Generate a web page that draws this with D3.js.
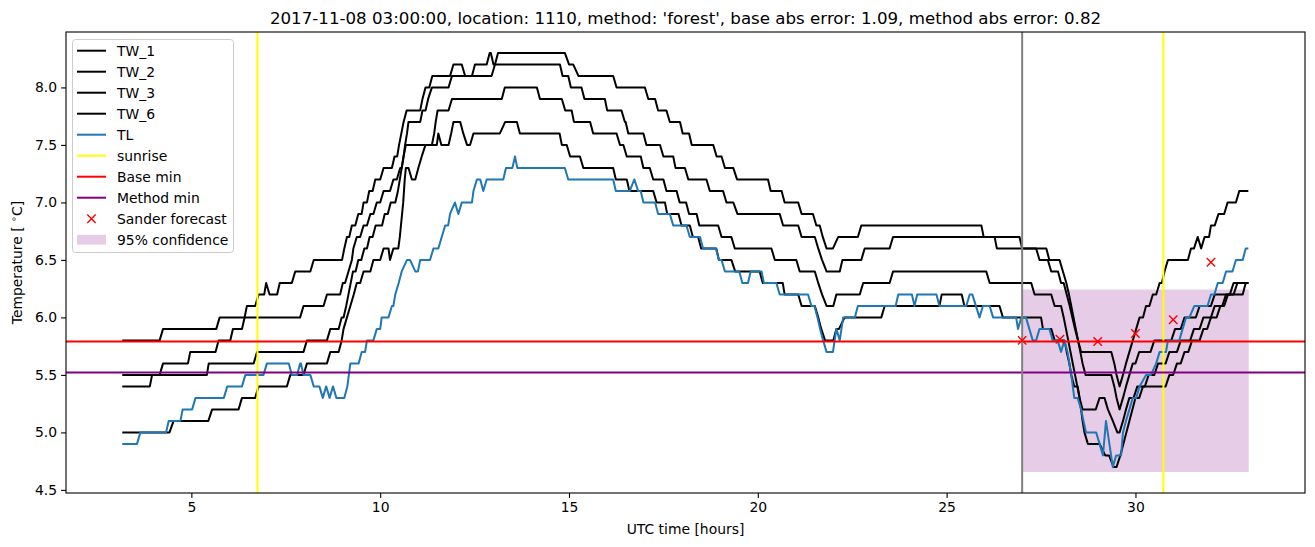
<!DOCTYPE html>
<html><head><meta charset="utf-8">
<script src="https://cdn.jsdelivr.net/npm/d3@7"></script>
<style>body{margin:0;background:#fff} text{font-family:"DejaVu Sans",sans-serif;fill:#000}</style>
</head><body><svg id="c" width="1315" height="547"></svg>
<script>
const titleText = "2017-11-08 03:00:00, location: 1110, method: 'forest', base abs error: 1.09, method abs error: 0.82";
const xTicks = [5, 10, 15, 20, 25, 30];
const yTicks = [4.5, 5.0, 5.5, 6.0, 6.5, 7.0, 7.5, 8.0];
// series as levels: [start hour, end hour, value]
const tw1 = [[3.17,4.16,5.5],[4.25,4.91,5.6],[4.97,5.64,5.7],[5.72,6.03,5.8],[6.10,6.34,5.9],[6.41,6.41,6.0],[6.47,6.69,6.1],[6.78,6.93,6.2],[6.98,6.98,6.3],[7.07,7.27,6.2],[7.34,7.66,6.3],[7.75,8.15,6.4],[8.24,8.99,6.5],[9.05,9.05,6.6],[9.12,9.18,6.7],[9.25,9.34,6.8],[9.42,9.51,6.9],[9.56,9.65,7.0],[9.71,9.80,7.1],[9.87,10.0,7.2],[10.09,10.31,7.3],[10.38,10.45,7.4],[10.5,10.5,7.5],[10.56,10.56,7.6],[10.62,10.62,7.7],[10.7,11.06,7.8],[11.12,11.12,7.9],[11.2,11.3,8.0],[11.38,11.85,8.1],[11.94,12.16,8.2],[12.25,12.43,8.1],[12.51,12.82,8.2],[12.9,12.93,8.3],[13.0,13.04,8.2],[13.12,14.89,8.3],[15.0,15.11,8.2],[15.25,16.17,8.1],[16.26,17.01,8.0],[17.1,17.28,7.9],[17.36,17.58,7.8],[17.67,17.94,7.7],[18.01,18.18,7.6],[18.25,18.82,7.5],[18.91,19.04,7.4],[19.13,19.35,7.3],[19.45,20.27,7.2],[20.34,20.63,7.1],[20.71,21.07,7.0],[21.16,21.46,6.9],[21.55,21.64,6.8],[21.72,21.72,6.7],[21.82,21.99,6.6],[22.13,22.65,6.7],[22.74,25.92,6.8],[25.98,26.93,6.7],[27.0,27.37,6.6],[27.46,27.68,6.5],[27.77,27.95,6.4],[28.03,28.1,6.3],[28.18,28.18,6.2],[28.26,28.26,6.1],[28.33,28.33,6.0],[28.4,28.4,5.9],[28.48,28.48,5.8],[28.56,29.36,5.7],[29.44,29.44,5.6],[29.5,29.5,5.5],[29.58,29.58,5.4],[29.67,29.67,5.5],[29.75,29.75,5.6],[29.84,29.84,5.7],[29.93,29.93,5.8],[30.02,30.02,5.9],[30.11,30.2,6.0],[30.28,30.37,6.1],[30.46,30.55,6.2],[30.64,30.7,6.3],[30.77,30.77,6.4],[30.86,31.39,6.5],[31.47,31.55,6.6],[31.65,31.65,6.7],[31.74,31.74,6.6],[31.83,31.95,6.7],[32.0,32.1,6.8],[32.2,32.35,6.9],[32.44,32.66,7.0],[32.75,32.99,7.1]];
const tw2 = [[3.17,4.16,5.8],[4.25,5.66,5.9],[5.75,7.88,6.0],[7.97,8.50,6.1],[8.59,8.94,6.2],[9.01,9.07,6.3],[9.16,9.16,6.4],[9.25,9.25,6.5],[9.29,9.29,6.6],[9.38,9.47,6.7],[9.56,9.65,6.8],[9.74,9.82,6.9],[9.91,10.0,7.0],[10.09,10.26,7.1],[10.35,10.44,7.2],[10.53,10.57,7.3],[10.62,10.62,7.4],[10.66,10.66,7.5],[10.71,10.71,7.6],[10.75,11.06,7.7],[11.12,11.2,7.8],[11.27,11.27,7.9],[11.37,11.81,8.0],[11.9,12.95,8.1],[13.04,14.76,8.2],[14.83,14.98,8.1],[15.05,15.33,8.0],[15.41,15.95,7.9],[16.01,16.39,7.8],[16.48,16.5,7.7],[16.57,16.97,7.6],[17.05,17.41,7.5],[17.5,17.76,7.4],[17.82,18.07,7.3],[18.16,18.64,7.2],[18.73,19.08,7.1],[19.17,19.35,7.0],[19.46,20.58,6.9],[20.67,21.07,6.8],[21.16,21.51,6.7],[21.6,21.6,6.6],[21.7,21.7,6.5],[21.82,22.17,6.4],[22.24,22.74,6.5],[22.83,23.49,6.6],[23.58,26.27,6.7],[26.33,27.64,6.6],[27.72,27.99,6.5],[28.08,28.08,6.4],[28.17,28.17,6.3],[28.24,28.24,6.2],[28.3,28.3,6.1],[28.36,28.36,6.0],[28.42,28.42,5.9],[28.48,28.48,5.8],[28.54,28.54,5.7],[28.6,28.6,5.6],[28.68,29.36,5.5],[29.44,29.44,5.4],[29.5,29.5,5.3],[29.58,29.58,5.2],[29.67,29.67,5.3],[29.75,29.75,5.4],[29.84,29.84,5.5],[29.93,30.0,5.6],[30.1,30.4,5.7],[30.5,30.95,5.8],[31.05,31.2,5.9],[31.3,31.6,6.0],[31.7,32.0,6.1],[32.1,32.5,6.2],[32.6,32.99,6.3]];
const tw3 = [[3.17,3.90,5.4],[3.96,5.41,5.5],[5.46,6.65,5.6],[6.74,7.97,5.7],[8.06,8.59,5.8],[8.68,8.9,5.9],[8.98,9.03,6.0],[9.1,9.1,6.1],[9.16,9.16,6.2],[9.22,9.22,6.3],[9.28,9.35,6.4],[9.42,9.5,6.5],[9.58,9.65,6.6],[9.72,9.8,6.7],[9.88,10.05,6.8],[10.12,10.2,6.9],[10.28,10.4,7.0],[10.47,10.47,7.1],[10.52,10.52,7.2],[10.57,10.57,7.3],[10.62,10.62,7.4],[10.68,11.37,7.5],[11.43,11.43,7.6],[11.47,11.47,7.7],[11.52,11.81,7.8],[11.9,13.22,7.9],[13.3,14.15,8.0],[14.23,14.81,7.9],[14.9,15.07,7.8],[15.13,15.56,7.7],[15.64,16.26,7.6],[16.35,16.44,7.5],[16.53,16.9,7.4],[16.97,17.14,7.3],[17.23,17.5,7.2],[17.58,17.85,7.1],[17.93,18.1,7.0],[18.18,18.38,6.9],[18.45,18.95,6.8],[19.04,19.3,6.7],[19.39,20.36,6.6],[20.45,21.02,6.5],[21.11,21.51,6.4],[21.6,21.6,6.3],[21.7,21.7,6.2],[21.82,22.0,6.1],[22.08,22.7,6.2],[22.79,23.49,6.3],[23.58,26.05,6.4],[26.14,27.24,6.3],[27.33,27.77,6.2],[27.86,28.03,6.1],[28.1,28.1,6.0],[28.16,28.16,5.9],[28.22,28.22,5.8],[28.28,28.28,5.7],[28.34,28.34,5.6],[28.4,28.4,5.5],[28.46,28.46,5.4],[28.52,28.52,5.3],[28.6,28.95,5.2],[29.05,29.18,5.3],[29.27,29.27,5.2],[29.4,29.4,5.1],[29.52,29.58,5.0],[29.67,29.67,5.1],[29.75,29.75,5.2],[29.84,29.95,5.3],[30.05,30.25,5.4],[30.35,30.5,5.5],[30.6,30.8,5.6],[30.9,31.1,5.7],[31.2,31.45,5.8],[31.55,31.7,5.9],[31.8,32.0,6.0],[32.1,32.3,6.1],[32.4,32.84,6.2],[32.92,32.99,6.3]];
const tw6 = [[3.17,4.42,5.0],[4.53,5.45,5.1],[5.55,6.25,5.2],[6.34,6.69,5.3],[6.78,7.53,5.4],[7.62,7.97,5.5],[8.06,8.59,5.6],[8.68,8.9,5.7],[8.98,8.98,5.8],[9.03,9.03,5.9],[9.12,9.12,6.0],[9.21,9.21,6.1],[9.3,9.3,6.2],[9.38,9.47,6.3],[9.56,9.74,6.4],[9.82,10.0,6.5],[10.09,10.22,6.6],[10.26,10.26,6.5],[10.35,10.48,6.6],[10.52,10.52,6.7],[10.55,10.55,6.8],[10.58,10.58,6.9],[10.61,10.61,7.0],[10.63,10.63,7.1],[10.65,10.65,7.2],[10.68,10.75,7.3],[10.84,10.93,7.2],[11.01,11.01,7.3],[11.1,11.1,7.4],[11.2,11.5,7.5],[11.54,11.54,7.6],[11.62,11.81,7.5],[11.88,11.88,7.6],[11.94,12.12,7.7],[12.2,12.2,7.6],[12.3,12.38,7.5],[12.47,13.17,7.6],[13.31,13.62,7.7],[13.7,14.75,7.6],[14.81,14.94,7.5],[15.03,15.29,7.4],[15.38,16.17,7.3],[16.24,16.53,7.2],[16.6,17.23,7.1],[17.32,17.54,7.0],[17.6,17.9,6.9],[17.98,18.2,6.8],[18.28,18.42,6.7],[18.5,18.9,6.6],[18.97,19.3,6.5],[19.4,20.05,6.4],[20.13,20.66,6.3],[20.71,21.07,6.2],[21.16,21.51,6.1],[21.6,21.6,6.0],[21.68,21.68,5.9],[21.78,22.0,5.8],[22.08,22.15,5.9],[22.3,23.27,6.0],[23.36,24.81,6.1],[24.87,25.4,6.2],[25.47,26.4,6.1],[26.49,27.5,6.0],[27.55,27.77,5.9],[27.86,28.12,5.8],[28.18,28.18,5.7],[28.25,28.25,5.6],[28.3,28.3,5.5],[28.38,28.47,5.4],[28.52,28.52,5.3],[28.56,28.56,5.2],[28.6,28.6,5.1],[28.65,28.65,5.0],[28.74,29.05,4.9],[29.2,29.3,4.8],[29.42,29.5,4.7],[29.6,29.6,4.8],[29.68,29.68,4.9],[29.76,29.76,5.0],[29.84,29.84,5.1],[29.92,29.92,5.2],[30.0,30.1,5.3],[30.2,30.8,5.4],[30.9,31.0,5.5],[31.1,31.2,5.6],[31.3,31.4,5.7],[31.5,31.7,5.8],[31.8,31.9,5.9],[32.0,32.15,6.0],[32.25,32.35,6.1],[32.45,32.6,6.2],[32.7,32.99,6.3]];
const tl = [[3.17,3.56,4.9],[3.65,4.33,5.0],[4.40,4.71,5.1],[4.77,5.02,5.2],[5.11,5.86,5.3],[5.95,6.34,5.4],[6.43,6.91,5.5],[7.0,7.58,5.6],[7.66,7.8,5.5],[7.88,7.9,5.6],[7.97,8.15,5.5],[8.24,8.39,5.4],[8.48,8.48,5.3],[8.57,8.57,5.4],[8.66,8.66,5.3],[8.75,8.75,5.4],[8.84,9.05,5.3],[9.13,9.13,5.4],[9.17,9.17,5.5],[9.21,9.43,5.6],[9.51,9.6,5.7],[9.65,9.82,5.8],[9.91,10.0,5.9],[10.04,10.22,6.0],[10.31,10.35,6.1],[10.4,10.4,6.2],[10.49,10.49,6.3],[10.57,10.57,6.4],[10.71,10.79,6.5],[10.93,11.0,6.4],[11.06,11.32,6.5],[11.41,11.54,6.6],[11.63,11.63,6.7],[11.72,11.8,6.8],[11.85,11.85,6.9],[11.98,11.98,7.0],[12.07,12.07,6.9],[12.16,12.43,7.0],[12.47,12.47,7.1],[12.56,12.65,7.2],[12.73,12.73,7.1],[12.82,13.26,7.2],[13.33,13.5,7.3],[13.57,13.57,7.4],[13.63,14.89,7.3],[14.98,16.17,7.2],[16.24,16.61,7.1],[16.73,16.73,7.2],[16.83,16.9,7.1],[16.97,17.28,7.0],[17.36,17.67,6.9],[17.76,18.11,6.8],[18.2,18.47,6.7],[18.55,18.89,6.6],[18.97,19.04,6.5],[19.13,19.51,6.4],[19.59,19.74,6.3],[19.81,20.10,6.4],[20.16,20.49,6.3],[20.58,21.33,6.2],[21.42,21.5,6.1],[21.58,21.58,6.0],[21.65,21.65,5.9],[21.73,21.73,5.8],[21.82,21.99,5.7],[22.08,22.08,5.9],[22.17,22.17,5.8],[22.26,22.57,6.0],[22.65,23.65,6.1],[23.72,24.08,6.2],[24.15,24.15,6.1],[24.22,24.73,6.2],[24.81,25.52,6.1],[25.61,25.68,6.2],[25.87,25.87,6.0],[25.96,26.14,6.1],[26.23,26.84,6.0],[26.89,26.89,5.9],[26.98,27.1,6.0],[27.28,27.37,5.8],[27.46,27.72,5.9],[27.81,27.94,5.8],[28.03,28.03,5.7],[28.12,28.12,5.8],[28.2,28.2,5.7],[28.3,28.3,5.5],[28.38,28.47,5.3],[28.56,28.56,5.2],[28.69,28.96,5.0],[29.14,29.14,4.8],[29.22,29.22,5.1],[29.4,29.4,4.7],[29.49,29.62,4.8],[29.67,29.67,5.0],[29.75,29.75,5.1],[29.84,29.84,5.2],[29.93,30.02,5.3],[30.11,30.11,5.4],[30.28,30.41,5.5],[30.55,30.55,5.6],[30.64,30.81,5.7],[30.86,31.16,5.8],[31.25,31.25,5.9],[31.34,31.43,6.0],[31.56,31.91,6.1],[32.0,32.09,6.2],[32.18,32.31,6.3],[32.4,32.57,6.4],[32.66,32.84,6.5],[32.92,32.99,6.6]];
const sunrise = [6.75, 30.74];
const forecastStart = [27.0];
const baseMin = [5.79];
const methodMin = [5.52];
const forecastHours = [27, 28, 29, 30, 31, 32];
const forecastValues = [5.80, 5.81, 5.79, 5.86, 5.98, 6.48];
const confHours = [27.0, 33.0];
const confLow = [4.655, 4.655];
const confHigh = [6.243, 6.243];
const legendLabels = ["TW_1","TW_2","TW_3","TW_6","TL","sunrise","Base min","Method min","Sander forecast","95% confidence"];

const svg = d3.select("#c");
const L = 66, R = 1305, T = 32, B = 493;
const x = d3.scaleLinear().domain([1.68, 34.49]).range([L, R]);
const y = d3.scaleLinear().domain([4.473, 8.482]).range([B, T]);

svg.append("defs").append("clipPath").attr("id","clip").append("rect")
  .attr("x",L).attr("y",T).attr("width",R-L).attr("height",B-T);
const g = svg.append("g").attr("clip-path","url(#clip)");

// confidence band (below lines)
const band = confHours.map((h,i)=>({h, lo:confLow[i], hi:confHigh[i]}));
g.append("path").datum(band)
  .attr("d", d3.area().x(d=>x(d.h)).y0(d=>y(d.lo)).y1(d=>y(d.hi)))
  .attr("fill","purple").attr("fill-opacity",0.2);

function pts(levels){
  const p = [];
  levels.forEach(([a,b,v])=>{ p.push([a,v]); if (b>a) p.push([b,v]); });
  return p;
}
const line = d3.line().x(d=>x(d[0])).y(d=>y(d[1]));
[tw1,tw2,tw3,tw6].forEach(s=>{
  g.append("path").attr("d", line(pts(s))).attr("fill","none")
   .attr("stroke","#000").attr("stroke-width",2).attr("stroke-linejoin","round");
});
g.append("path").attr("d", line(pts(tl))).attr("fill","none")
 .attr("stroke","#1f77b4").attr("stroke-width",2).attr("stroke-linejoin","round");

sunrise.forEach(h=>g.append("line").attr("x1",x(h)).attr("x2",x(h)).attr("y1",T).attr("y2",B)
  .attr("stroke","yellow").attr("stroke-width",2));
baseMin.forEach(v=>g.append("line").attr("x1",L).attr("x2",R).attr("y1",y(v)).attr("y2",y(v))
  .attr("stroke","red").attr("stroke-width",2));
methodMin.forEach(v=>g.append("line").attr("x1",L).attr("x2",R).attr("y1",y(v)).attr("y2",y(v))
  .attr("stroke","purple").attr("stroke-width",2));
forecastStart.forEach(h=>g.append("line").attr("x1",x(h)).attr("x2",x(h)).attr("y1",T).attr("y2",B)
  .attr("stroke","grey").attr("stroke-width",2));

const xm = 4.2;
forecastHours.forEach((h,i)=>{
  const cx = x(h), cy = y(forecastValues[i]);
  g.append("path").attr("d",`M${cx-xm},${cy-xm}L${cx+xm},${cy+xm}M${cx-xm},${cy+xm}L${cx+xm},${cy-xm}`)
   .attr("stroke","red").attr("stroke-width",1.4).attr("fill","none");
});

// axes
const xAxis = svg.append("g").attr("transform",`translate(0,${B})`)
  .call(d3.axisBottom(x).tickValues(xTicks).tickFormat(d3.format("d")).tickSize(4.9).tickPadding(4));
const yAxis = svg.append("g").attr("transform",`translate(${L},0)`)
  .call(d3.axisLeft(y).tickValues(yTicks).tickFormat(d3.format(".1f")).tickSize(4.9).tickPadding(4));
[xAxis,yAxis].forEach(a=>{
  a.select(".domain").remove();
  a.selectAll(".tick line").attr("stroke","#000").attr("stroke-width",1.1);
  a.selectAll(".tick text").attr("font-size",13.9).attr("font-family","DejaVu Sans").attr("fill","#000");
});
svg.append("rect").attr("x",L).attr("y",T).attr("width",R-L).attr("height",B-T)
  .attr("fill","none").attr("stroke","#000").attr("stroke-width",1.1);

svg.append("text").attr("x",(L+R)/2).attr("y",24).attr("text-anchor","middle")
  .attr("font-size",16.67).text(titleText);
svg.append("text").attr("x",(L+R)/2).attr("y",534).attr("text-anchor","middle")
  .attr("font-size",13.9).text("UTC time [hours]");
const yl = svg.append("text").attr("transform",`translate(22,${(T+B)/2}) rotate(-90)`)
  .attr("text-anchor","middle").attr("font-size",13.9);
yl.append("tspan").text("Temperature [ ");
yl.append("tspan").attr("font-size",9.7).attr("dy",-5).text("∘");
yl.append("tspan").attr("dy",5).text("C]");

// legend
const lg = svg.append("g");
lg.append("rect").attr("x",72.5).attr("y",39.5).attr("width",161).attr("height",213).attr("rx",3)
  .attr("fill","#fff").attr("fill-opacity",0.8).attr("stroke","#cccccc").attr("stroke-width",1);
const lcolors = ["#000","#000","#000","#000","#1f77b4","yellow","red","purple"];
legendLabels.forEach((lab,i)=>{
  const cy = 50.7 + i*21.0;
  if (i < 8) {
    lg.append("line").attr("x1",77).attr("x2",106).attr("y1",cy).attr("y2",cy)
      .attr("stroke",lcolors[i]).attr("stroke-width",2);
  } else if (i === 8) {
    lg.append("path").attr("d",`M${91.5-xm},${cy-xm}L${91.5+xm},${cy+xm}M${91.5-xm},${cy+xm}L${91.5+xm},${cy-xm}`)
      .attr("stroke","red").attr("stroke-width",1.4);
  } else {
    lg.append("rect").attr("x",77).attr("y",cy-4.9).attr("width",29).attr("height",9.8)
      .attr("fill","purple").attr("fill-opacity",0.2);
  }
  lg.append("text").attr("x",117).attr("y",cy+5).attr("font-size",13.9).text(lab);
});
</script></body></html>
